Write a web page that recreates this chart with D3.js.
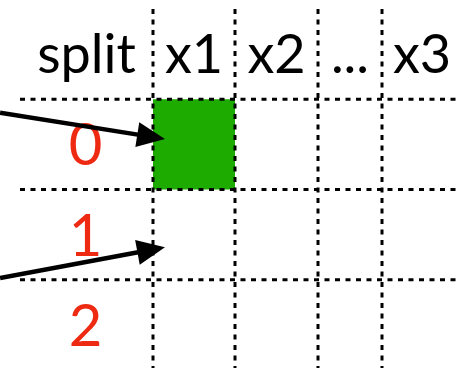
<!DOCTYPE html>
<html>
<head>
<meta charset="utf-8">
<script src="https://cdn.jsdelivr.net/npm/d3@7"></script>
<style>
html,body{margin:0;padding:0;background:#fff;}
svg{display:block;}
</style>
</head>
<body>
<svg id="chart" width="460" height="368"></svg>
<script>
// ---- data ----
const columns = ["split", "x1", "x2", "...", "x3"];
const rows = ["0", "1", "2"];
const highlighted = [{row: 0, col: 1}];
// arrows: from / to in (column, row) data units
const arrowFromCol = [-0.15, -0.15];
const arrowFromRow = [0.15, 1.98];
const arrowToCol = [1.146, 1.146];
const arrowToRow = [0.44, 1.64];

// ---- scales ----
const svg = d3.select("#chart");
const W = 460, H = 368;
// column edges (split column is wider, "..." is narrower)
const x = d3.scaleLinear().domain([0, 1, 2, 3, 4, 5]).range([20, 153, 235, 318, 382, 462]);
// header row is -1, data rows 0..2
const y = d3.scaleLinear().domain([-1, 3]).range([9, 370]);

const green = "#1dab00";
const red = "#ee2a12";

// highlighted cells
svg.selectAll("rect.hl").data(highlighted).join("rect")
  .attr("class", "hl")
  .attr("x", d => x(d.col)).attr("y", d => y(d.row))
  .attr("width", d => x(d.col + 1) - x(d.col))
  .attr("height", d => y(d.row + 1) - y(d.row))
  .attr("fill", green);

// grid lines
const dash = "5,5.5";
const vEdges = d3.range(1, columns.length);
svg.selectAll("line.v").data(vEdges).join("line")
  .attr("class", "v")
  .attr("x1", d => x(d)).attr("x2", d => x(d))
  .attr("y1", y(-1)).attr("y2", H)
  .attr("stroke", "#000").attr("stroke-width", 3).attr("stroke-dasharray", dash);
const hEdges = d3.range(0, rows.length);
svg.selectAll("line.h").data(hEdges).join("line")
  .attr("class", "h")
  .attr("x1", x(0)).attr("x2", W)
  .attr("y1", d => y(d)).attr("y2", d => y(d))
  .attr("stroke", "#000").attr("stroke-width", 3).attr("stroke-dasharray", dash);

const font = "Lato, 'Open Sans', sans-serif";
// header
svg.selectAll("text.col").data(columns).join("text")
  .attr("class", "col")
  .attr("x", (d, i) => (x(i) + x(i + 1)) / 2)
  .attr("y", y(-0.5) + 19)
  .attr("text-anchor", "middle")
  .attr("font-family", font).attr("font-size", 54)
  .attr("fill", "#000")
  .text(d => d);

// row labels
svg.selectAll("text.row").data(rows).join("text")
  .attr("class", "row")
  .attr("x", (x(0) + x(1)) / 2 - 1)
  .attr("y", (d, i) => y(i + 0.5) + 21)
  .attr("text-anchor", "middle")
  .attr("font-family", font).attr("font-size", 58)
  .attr("fill", red)
  .text(d => d);

// arrows
const arrows = arrowFromCol.map((c, i) => ({
  x0: x(c), y0: y(arrowFromRow[i]), x1: x(arrowToCol[i]), y1: y(arrowToRow[i])
}));
const L = 28, HW = 12.5;
arrows.forEach(a => {
  const dx = a.x1 - a.x0, dy = a.y1 - a.y0, len = Math.hypot(dx, dy);
  const ux = dx / len, uy = dy / len, px = -uy, py = ux;
  const bx = a.x1 - ux * L, by = a.y1 - uy * L;
  svg.append("line")
    .attr("x1", a.x0).attr("y1", a.y0).attr("x2", bx + ux * 2).attr("y2", by + uy * 2)
    .attr("stroke", "#000").attr("stroke-width", 4.5);
  svg.append("path")
    .attr("d", d3.line()([[a.x1, a.y1], [bx + px * HW, by + py * HW], [bx - px * HW, by - py * HW]]) + "Z")
    .attr("fill", "#000");
});
</script>
</body>
</html>
